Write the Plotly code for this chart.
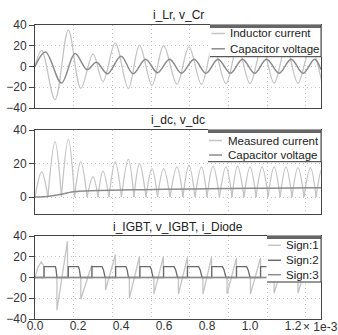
import plotly.graph_objects as go

# ---------------- data (time in ms; axis shows "x 1e-3" s) ----------------
x_ticks = [0.0, 0.2, 0.4, 0.6, 0.8, 1.0, 1.2]
x_tick_labels = ["0.0", "0.2", "0.4", "0.6", "0.8", "1.0", "1.2"]

t_iLr = [0.000, 0.031, 0.093, 0.155, 0.213, 0.270, 0.316, 0.373, 0.434, 0.486,
         0.544, 0.598, 0.660, 0.716, 0.774, 0.828, 0.888, 0.942, 1.000, 1.056,
         1.112, 1.167, 1.223, 1.281, 1.335]
i_Lr = [0, 15.5, -32, 35, -21, 12, -14.5, 22.5, -21, 20.5,
        -18, 20, -17, 19, -17, 19, -16.5, 19, -16.5, 19,
        -16, 18.5, -16, 18.5, -16]

t_vCr = [0.000, 0.049, 0.123, 0.186, 0.242, 0.286, 0.337, 0.400, 0.456, 0.514,
         0.570, 0.626, 0.681, 0.740, 0.795, 0.851, 0.909, 0.965, 1.021, 1.077,
         1.135, 1.191, 1.247, 1.300, 1.330]
v_Cr = [0, 14, -16, 12.5, -3, 4, -7, 10, -7, 7,
        -6, 7, -6.5, 7, -6.5, 7, -6.5, 7, -6.5, 7,
        -6.5, 7, -6.5, 7, -3]

idc_zero_t = [0.000, 0.060, 0.123, 0.184, 0.242, 0.293, 0.344, 0.402, 0.460, 0.516,
              0.570, 0.628, 0.688, 0.744, 0.800, 0.858, 0.916, 0.972, 1.028, 1.084,
              1.140, 1.195, 1.251, 1.307, 1.362]
idc_peak_t = [0.031, 0.093, 0.155, 0.213, 0.270, 0.316, 0.373, 0.434, 0.486, 0.544,
              0.598, 0.660, 0.716, 0.774, 0.828, 0.888, 0.942, 1.000, 1.056, 1.112,
              1.167, 1.223, 1.281, 1.335]
idc_peak_v = [15, 33, 34.5, 21, 12, 15.5, 21, 22.5, 20, 17,
              17, 18, 19, 18, 18.5, 18, 18.5, 18, 18, 18,
              18, 17.5, 17.5, 17]

t_vdc = [0.000, 0.040, 0.080, 0.130, 0.170, 0.200, 0.300, 0.450, 0.600, 0.800, 1.000, 1.200, 1.330]
v_dc = [0, 0.2, 0.8, 1.8, 3.0, 3.4, 3.9, 4.3, 4.6, 4.9, 5.2, 5.4, 5.6]

t_iIGBT = [0.000, 0.014, 0.029, 0.042, 0.042, 0.102, 0.102, 0.151, 0.151, 0.213,
           0.213, 0.264, 0.264, 0.328, 0.328, 0.374, 0.374, 0.439, 0.439, 0.486,
           0.486, 0.553, 0.553, 0.597, 0.597, 0.667, 0.667, 0.709, 0.709, 0.781,
           0.781, 0.821, 0.821, 0.893, 0.893, 0.937, 0.937, 1.002, 1.002, 1.049,
           1.049, 1.112, 1.112, 1.160, 1.160, 1.223, 1.223, 1.272, 1.272, 1.335,
           1.335]
i_IGBT = [0, 10, 15, 11, 0, 0, -31.5, 35, 0, 0,
          -21, 12, 0, 0, -12, 22, 0, 0, -20, 20.5,
          0, 0, -16, 20, 0, 0, -16, 19.5, 0, 0,
          -16, 19.5, 0, 0, -16, 19, 0, 0, -16, 19,
          0, 0, -15, 18.5, 0, 0, -15, 18.5, 0, 0,
          -15]

vigbt_on = [0.042, 0.155, 0.265, 0.375, 0.488, 0.598, 0.709, 0.822, 0.937, 1.049, 1.161, 1.272]
vigbt_flat_end = [0.095, 0.202, 0.312, 0.423, 0.535, 0.647, 0.761, 0.872, 0.984, 1.095, 1.207, 1.319]
vigbt_zero = [0.102, 0.212, 0.326, 0.435, 0.549, 0.663, 0.777, 0.888, 1.000, 1.109, 1.221, 1.333]
vigbt_level = [10.5, 10.5, 10.5, 10.5, 10.5, 10.5, 10.5, 10.5, 10.5, 10.5, 10.5, 10.5]

t_iDiode = [0.000, 1.335]
i_Diode = [0, 0]

# ---------------- build derived trace arrays ----------------
idc_x, idc_y = [], []
for k in range(len(idc_peak_t)):
    idc_x += [idc_zero_t[k], idc_peak_t[k], idc_zero_t[k + 1], None]
    idc_y += [0, idc_peak_v[k], 0, None]

vig_x, vig_y = [0.0], [0.0]
for k in range(len(vigbt_on)):
    fe = vigbt_flat_end[k]
    z = vigbt_zero[k]
    vig_x += [vigbt_on[k], vigbt_on[k], fe, fe + (z - fe) * 0.45, z]
    vig_y += [0, vigbt_level[k], vigbt_level[k], vigbt_level[k] * 0.7, 0]
vig_x.append(1.335)
vig_y.append(0)

LIGHT = "#c4c4c4"
MID = "#8c8c8c"
DARK = "#6a6a6a"

fig = go.Figure()
fig.add_trace(go.Scatter(x=t_iLr, y=i_Lr, mode="lines", name="Inductor current",
                         line=dict(color=LIGHT, width=1.3, shape="spline"),
                         xaxis="x", yaxis="y", showlegend=False))
fig.add_trace(go.Scatter(x=t_vCr, y=v_Cr, mode="lines", name="Capacitor voltage",
                         line=dict(color=MID, width=1.5, shape="spline"),
                         xaxis="x", yaxis="y", showlegend=False))
fig.add_trace(go.Scatter(x=idc_x, y=idc_y, mode="lines", name="Measured current",
                         line=dict(color=LIGHT, width=1.3, shape="spline"),
                         connectgaps=False, xaxis="x2", yaxis="y2", showlegend=False))
fig.add_trace(go.Scatter(x=t_vdc, y=v_dc, mode="lines", name="Capacitor voltage",
                         line=dict(color=MID, width=1.5, shape="spline"),
                         xaxis="x2", yaxis="y2", showlegend=False))
fig.add_trace(go.Scatter(x=t_iIGBT, y=i_IGBT, mode="lines", name="Sign:1",
                         line=dict(color=LIGHT, width=1.3),
                         xaxis="x3", yaxis="y3", showlegend=False))
fig.add_trace(go.Scatter(x=vig_x, y=vig_y, mode="lines", name="Sign:2",
                         line=dict(color=DARK, width=1.3),
                         xaxis="x3", yaxis="y3", showlegend=False))
fig.add_trace(go.Scatter(x=t_iDiode, y=i_Diode, mode="lines", name="Sign:3",
                         line=dict(color=MID, width=1.5),
                         xaxis="x3", yaxis="y3", showlegend=False))

FONT = "Liberation Sans, Arial, sans-serif"
W, H = 338, 335
ML, MR, MT, MB = 35, 17, 25, 16
PW, PH = W - ML - MR, H - MT - MB
GRID = "#c4c4c4"
GRIDDASH = "1px,3px"

def px_x(px):
    return (px - ML) / PW

def px_y(py):
    return (H - MB - py) / PH

d1 = [px_y(108), px_y(25)]
d2 = [px_y(213.8), px_y(130)]
d3 = [px_y(319), px_y(236)]

def xax(anchor, labels):
    return dict(anchor=anchor, domain=[0, 1], range=[0, 1.33], tickvals=x_ticks,
                ticktext=x_tick_labels, showticklabels=labels, ticks="",
                ticklabelstandoff=-4,
                showgrid=False, zeroline=False, showline=True, mirror=True,
                linecolor="#444", linewidth=1, automargin=False,
                tickfont=dict(size=12, color="#333"),
                minor=dict(dtick=0.18, tick0=0, showgrid=True, gridcolor=GRID,
                           griddash=GRIDDASH, gridwidth=1, ticks=""))

def yax(anchor, domain, rng, vals):
    return dict(anchor=anchor, domain=domain, range=rng, tickvals=vals,
                ticks="outside", ticklen=5, tickcolor="#444", automargin=False,
                showgrid=True, gridcolor=GRID, griddash=GRIDDASH, zeroline=False,
                showline=True, mirror=True, linecolor="#444", linewidth=1,
                tickfont=dict(size=12, color="#333"))

# custom legend boxes (pixel positions)
legend_boxes = [
    dict(left=210, top=25, bottom=56.7, sx0=211.5, sx1=225, tx=229,
         rows=[(33.5, "Inductor current", LIGHT), (48.8, "Capacitor voltage", MID)]),
    dict(left=208, top=130, bottom=161.7, sx0=209, sx1=222, tx=226.5,
         rows=[(140.5, "Measured current", LIGHT), (155, "Capacitor voltage", MID)]),
    dict(left=267, top=236, bottom=282, sx0=268, sx1=281, tx=285,
         rows=[(245.3, "Sign:1", LIGHT), (260.3, "Sign:2", DARK), (274.7, "Sign:3", MID)]),
]

shapes, annotations = [], []
for b in legend_boxes:
    shapes.append(dict(type="rect", xref="paper", yref="paper",
                       x0=px_x(b["left"]), x1=1.0, y0=px_y(b["bottom"]), y1=px_y(b["top"]),
                       fillcolor="white", line=dict(color="white", width=1),
                       layer="above"))
    shapes.append(dict(type="line", xref="paper", yref="paper",
                       x0=px_x(b["left"]), x1=1.0, y0=px_y(b["top"] + 1.5), y1=px_y(b["top"] + 1.5),
                       line=dict(color="#666", width=3), layer="above"))
    shapes.append(dict(type="line", xref="paper", yref="paper",
                       x0=px_x(b["left"]), x1=1.0, y0=px_y(b["bottom"]), y1=px_y(b["bottom"]),
                       line=dict(color="#333", width=1), layer="above"))
    shapes.append(dict(type="line", xref="paper", yref="paper",
                       x0=1.0, x1=1.0, y0=px_y(b["bottom"]), y1=px_y(b["top"]),
                       line=dict(color="#444", width=1), layer="above"))
    for (ry, label, col) in b["rows"]:
        shapes.append(dict(type="line", xref="paper", yref="paper",
                           x0=px_x(b["sx0"]), x1=px_x(b["sx1"]), y0=px_y(ry), y1=px_y(ry),
                           line=dict(color=col, width=1.5), layer="above"))
        annotations.append(dict(text=label, xref="paper", yref="paper",
                                x=px_x(b["tx"]), y=px_y(ry), xanchor="left", yanchor="middle",
                                showarrow=False, borderpad=0,
                                font=dict(size=11.5, color="#222", family=FONT)))

titles = [("i_Lr, v_Cr", 15), ("i_dc, v_dc", 120), ("i_IGBT, v_IGBT, i_Diode", 227)]
for text, cy in titles:
    annotations.append(dict(text=text, xref="paper", yref="paper", x=0.5, y=px_y(cy),
                            xanchor="center", yanchor="middle", showarrow=False,
                            font=dict(size=12, color="#222")))
annotations.append(dict(text="\u00d7 1e-3", xref="paper", yref="paper", x=px_x(320),
                        y=px_y(326.5), xanchor="center", yanchor="middle", showarrow=False,
                        font=dict(size=12, color="#333")))

fig.update_layout(
    width=W, height=H,
    margin=dict(l=ML, r=MR, t=MT, b=MB, autoexpand=False),
    paper_bgcolor="white", plot_bgcolor="white",
    font=dict(family=FONT, size=12, color="#333"),
    xaxis=xax("y", False), yaxis=yax("x", d1, [-40, 40], [-40, -20, 0, 20, 40]),
    xaxis2=xax("y2", False), yaxis2=yax("x2", d2, [-10, 40], [0, 20, 40]),
    xaxis3=xax("y3", True), yaxis3=yax("x3", d3, [-40, 40], [-40, -20, 0, 20, 40]),
    shapes=shapes,
    annotations=annotations,
    showlegend=False,
)

fig.write_html("out.html")
